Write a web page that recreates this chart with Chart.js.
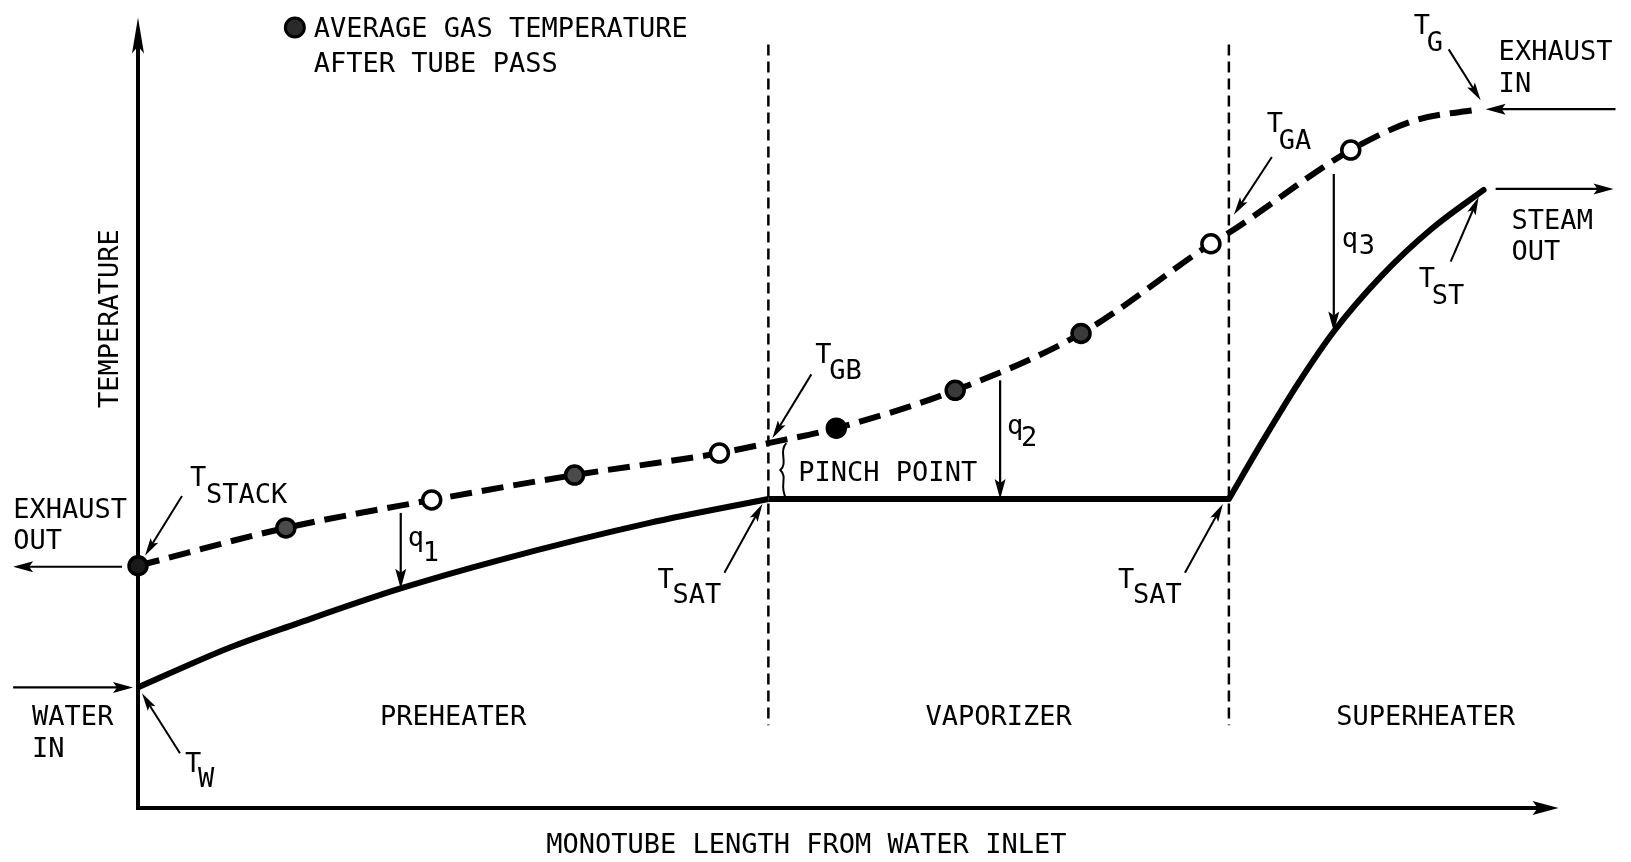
<!DOCTYPE html>
<html>
<head>
<meta charset="utf-8">
<script src="https://cdn.jsdelivr.net/npm/chart.js@4.4.1/dist/chart.umd.min.js"></script>
<style>
  html, body { margin: 0; padding: 0; background: #fff; }
  canvas { display: block; }
</style>
</head>
<body>
<canvas id="chart" width="1631" height="862"></canvas>
<script>
// schematic units: length from water inlet (x) and temperature (y)
const gasLength = [0, 148, 294, 437, 582, 631, 699, 818, 944, 1074, 1092, 1214, 1279, 1344];
const gasTemp   = [243, 281, 309, 334, 356, 366, 381, 419, 476, 566, 577, 660, 690, 701];

// gas temperature after a tube pass (filled) and the other points (open)
const passLength = [0, 148, 437, 699, 818, 944];
const passTemp   = [243, 281, 334, 381, 419, 476];
const openLength = [294, 582, 1074, 1214];
const openTemp   = [309, 356, 566, 660];

// water / steam side
const preheatLength = [0, 92, 159, 262, 359, 512, 631];
const preheatTemp   = [121, 161, 185, 220, 248, 286, 310];
const vaporLength   = [631, 1092];
const vaporTemp     = [310, 310];
const superLength   = [1092, 1127, 1162, 1197, 1245, 1295, 1347];
const superTemp     = [310, 370, 427, 478, 534, 581, 620];

const sectionBounds = [0, 631, 1092, 1486];
const sectionNames  = ['PREHEATER', 'VAPORIZER', 'SUPERHEATER'];

const toPoints = (xs, ys) => xs.map((x, i) => ({ x: x, y: ys[i] }));

const FONT = '27px "DejaVu Sans Mono"';

// draw a line with a filled head at (x2, y2)
function arrow(ctx, x1, y1, x2, y2, len, half, width) {
  const a = Math.atan2(y2 - y1, x2 - x1);
  const c = Math.cos(a), s = Math.sin(a);
  ctx.lineWidth = width;
  ctx.beginPath();
  ctx.moveTo(x1, y1);
  ctx.lineTo(x2 - c * len * 0.7, y2 - s * len * 0.7);
  ctx.stroke();
  ctx.beginPath();
  ctx.moveTo(x2, y2);
  ctx.lineTo(x2 - c * len + s * half, y2 - s * len - c * half);
  ctx.lineTo(x2 - c * len * 0.8, y2 - s * len * 0.8);
  ctx.lineTo(x2 - c * len - s * half, y2 - s * len + c * half);
  ctx.closePath();
  ctx.fill();
}

const diagramPlugin = {
  id: 'diagram',
  beforeDatasetsDraw(chart) {
    const ctx = chart.ctx;
    const X = v => chart.scales.x.getPixelForValue(v);
    const Y = v => chart.scales.y.getPixelForValue(v);
    ctx.save();
    ctx.strokeStyle = '#000';
    ctx.fillStyle = '#000';
    ctx.lineCap = 'butt';

    // axes
    arrow(ctx, X(0), Y(0) + 2, X(0), Y(793), 36, 6, 4);
    arrow(ctx, X(0) - 2, Y(0), X(1422), Y(0), 26, 7, 4);

    // section boundaries
    ctx.setLineDash([11, 6]);
    ctx.lineWidth = 2.5;
    [sectionBounds[1], sectionBounds[2]].forEach(b => {
      ctx.beginPath();
      ctx.moveTo(X(b), Y(766));
      ctx.lineTo(X(b), Y(83));
      ctx.stroke();
    });
    ctx.setLineDash([]);
    ctx.restore();
  },
  afterDatasetsDraw(chart) {
    const ctx = chart.ctx;
    const X = v => chart.scales.x.getPixelForValue(v);
    const Y = v => chart.scales.y.getPixelForValue(v);
    ctx.save();
    ctx.strokeStyle = '#000';
    ctx.fillStyle = '#000';

    // flow arrows and heat-flow arrows
    const flows = [
      [-16, 242, -125, 242], [-125, 121, -5, 121],
      [1479, 701, 1349, 701], [1359, 621, 1477, 621],
      [263, 296, 263, 220], [863, 429, 863, 310], [1197, 636, 1197, 478]
    ];
    flows.forEach(f => arrow(ctx, X(f[0]), Y(f[1]), X(f[2]), Y(f[3]), 20, 5.5, 2.2));

    // label pointers
    const pointers = [
      [44, 313, 7, 253], [42, 55, 4, 115], [674, 435, 635, 371],
      [587, 236, 625, 305], [1048, 236, 1086, 305], [1135, 653, 1097, 595],
      [1312, 761, 1344, 710], [1314, 548, 1342, 613]
    ];
    pointers.forEach(p => arrow(ctx, X(p[0]), Y(p[1]), X(p[2]), Y(p[3]), 18, 4.5, 2));

    // pinch point brace
    const bx = X(646), by1 = Y(368), by2 = Y(310);
    ctx.lineWidth = 2;
    ctx.beginPath();
    ctx.moveTo(bx + 3, by1 + 2);
    ctx.bezierCurveTo(bx - 5, by1 + 10, bx + 5, by1 + 22, bx - 3, (by1 + by2) / 2);
    ctx.bezierCurveTo(bx + 5, (by1 + by2) / 2 + 8, bx - 5, by2 - 14, bx + 3, by2);
    ctx.stroke();

    // legend symbol
    ctx.beginPath();
    ctx.arc(X(157), Y(783), 9.5, 0, Math.PI * 2);
    ctx.fillStyle = '#2a2a2a';
    ctx.fill();
    ctx.lineWidth = 3;
    ctx.stroke();
    ctx.fillStyle = '#000';

    ctx.font = FONT;
    ctx.textBaseline = 'alphabetic';
    ctx.textAlign = 'left';
    const texts = [
      ['AVERAGE GAS TEMPERATURE', 176, 773], ['AFTER TUBE PASS', 176, 738],
      ['EXHAUST', -125, 291], ['OUT', -125, 260],
      ['WATER', -106, 83], ['IN', -106, 51],
      ['EXHAUST', 1362, 750], ['IN', 1362, 718],
      ['STEAM', 1375, 581], ['OUT', 1375, 550],
      ['PINCH POINT', 661, 328]
    ];
    texts.forEach(t => ctx.fillText(t[0], X(t[1]), Y(t[2])));

    // symbols with subscripts: main, sub, x, y, sub x, sub y
    const symbols = [
      ['T', 'STACK', 52, 323, 68, 306], ['T', 'W', 47, 36, 60, 21],
      ['T', 'GB', 678, 446, 692, 430], ['T', 'SAT', 520, 221, 535, 206],
      ['T', 'SAT', 981, 221, 996, 206], ['T', 'GA', 1130, 678, 1142, 661],
      ['T', 'G', 1277, 776, 1290, 759], ['T', 'ST', 1282, 523, 1295, 506],
      ['q', '1', 270, 263, 285, 248], ['q', '2', 870, 375, 884, 363],
      ['q', '3', 1205, 563, 1222, 556]
    ];
    symbols.forEach(s => {
      ctx.fillText(s[0], X(s[2]), Y(s[3]));
      ctx.fillText(s[1], X(s[4]), Y(s[5]));
    });

    // section names
    ctx.textAlign = 'center';
    sectionNames.forEach((name, i) => {
      ctx.fillText(name, X((sectionBounds[i] + sectionBounds[i + 1]) / 2), Y(83));
    });

    // axis titles
    ctx.fillText('MONOTUBE LENGTH FROM WATER INLET', X(669), Y(-45));
    ctx.translate(X(-20), Y(491));
    ctx.rotate(-Math.PI / 2);
    ctx.fillText('TEMPERATURE', 0, 0);
    ctx.restore();
  }
};

new Chart(document.getElementById('chart'), {
  type: 'line',
  data: {
    datasets: [
      {
        data: toPoints(passLength, passTemp),
        showLine: false,
        pointRadius: 9,
        pointBorderWidth: 3.5,
        pointBorderColor: '#000',
        pointBackgroundColor: ['#1a1a1a', '#4a4a4a', '#4a4a4a', '#000', '#3a3a3a', '#3a3a3a'],
        order: 0,
        clip: false
      },
      {
        data: toPoints(openLength, openTemp),
        showLine: false,
        pointRadius: 9,
        pointBorderWidth: 3.5,
        pointBorderColor: '#000',
        pointBackgroundColor: '#fff',
        order: 0,
        clip: false
      },
      {
        data: toPoints(gasLength, gasTemp),
        borderColor: '#000',
        borderWidth: 6,
        borderDash: [22, 10],
        cubicInterpolationMode: 'monotone',
        pointRadius: 0,
        order: 1,
        clip: false
      },
      {
        data: toPoints(preheatLength, preheatTemp),
        borderColor: '#000',
        borderWidth: 6,
        cubicInterpolationMode: 'monotone',
        pointRadius: 0,
        order: 1,
        clip: false
      },
      {
        data: toPoints(vaporLength, vaporTemp),
        borderColor: '#000',
        borderWidth: 6,
        pointRadius: 0,
        order: 1,
        clip: false
      },
      {
        data: toPoints(superLength, superTemp),
        borderColor: '#000',
        borderWidth: 6,
        cubicInterpolationMode: 'monotone',
        pointRadius: 0,
        borderCapStyle: 'round',
        order: 1,
        clip: false
      }
    ]
  },
  options: {
    responsive: false,
    devicePixelRatio: 1,
    animation: false,
    layout: { padding: { left: 138, right: 11, top: 10, bottom: 54 } },
    scales: {
      x: { type: 'linear', min: 0, max: 1482, display: false },
      y: { type: 'linear', min: 0, max: 798, display: false }
    },
    plugins: {
      legend: { display: false },
      tooltip: { enabled: false }
    }
  },
  plugins: [diagramPlugin]
});
</script>
</body>
</html>
